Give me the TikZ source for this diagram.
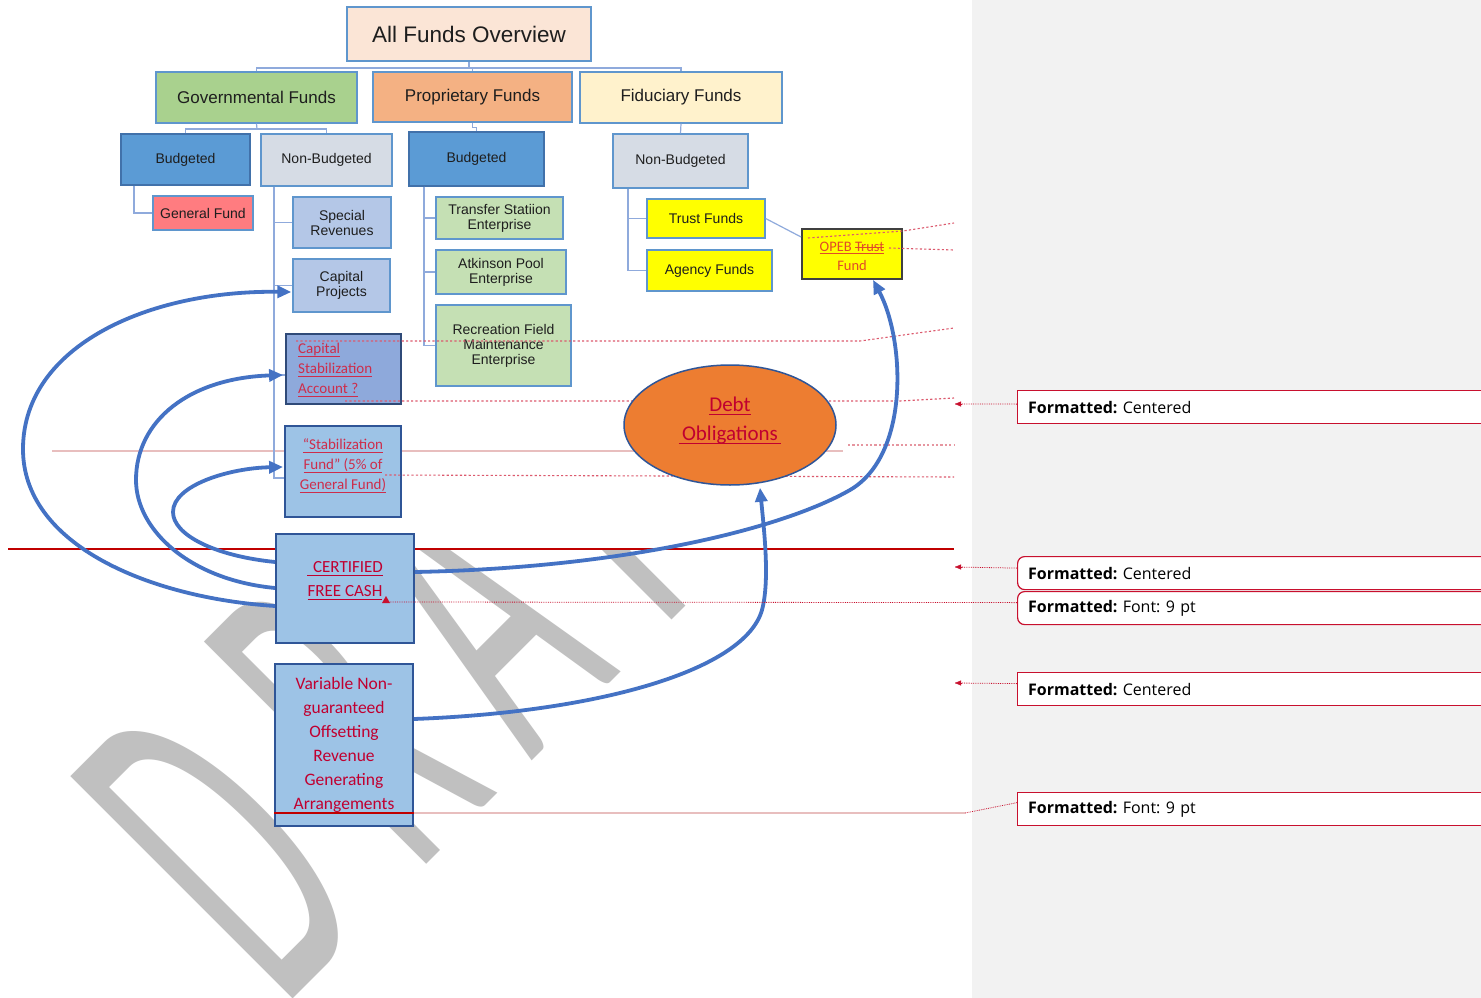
\documentclass[tikz,border=0pt]{standalone}
\usepackage{fontspec}
\setmainfont{Liberation Sans}
\newfontfamily\calib{Carlito}
\newfontfamily\segoe{Open Sans}
\newcommand\uln[1]{\leavevmode\setbox0\hbox{#1}\rlap{\vrule width\wd0 height -2pt depth 3.1pt}\box0}
\newcommand\strk[1]{\leavevmode\setbox2\hbox{#1}\rlap{\vrule width\wd2 height 4.6pt depth -3.6pt}\box2}
\usetikzlibrary{shapes.geometric,arrows.meta}
\definecolor{bggray}{RGB}{242,242,242}
\definecolor{wmgray}{RGB}{192,192,192}
\definecolor{cpeach}{RGB}{251,229,214}
\definecolor{obord}{RGB}{95,150,205}
\definecolor{obord2}{RGB}{65,113,170}
\definecolor{otext}{RGB}{30,30,30}
\definecolor{cgreen}{RGB}{169,209,142}
\definecolor{corange}{RGB}{244,177,131}
\definecolor{cfid}{RGB}{255,242,204}
\definecolor{cbud}{RGB}{91,155,213}
\definecolor{cnb}{RGB}{214,220,229}
\definecolor{cgf}{RGB}{255,124,128}
\definecolor{clb}{RGB}{180,199,231}
\definecolor{cmb}{RGB}{142,169,219}
\definecolor{cdark}{RGB}{47,74,120}
\definecolor{csky}{RGB}{157,195,230}
\definecolor{cdark2}{RGB}{47,85,151}
\definecolor{clg}{RGB}{197,224,180}
\definecolor{cyel}{RGB}{255,255,0}
\definecolor{cgray4}{RGB}{64,64,64}
\definecolor{corg}{RGB}{225,75,40}
\definecolor{corange2}{RGB}{237,125,49}
\definecolor{tred}{RGB}{192,0,48}
\definecolor{tred2}{RGB}{205,45,75}
\definecolor{aBlue}{RGB}{68,114,196}
\definecolor{oline}{RGB}{143,170,220}
\definecolor{rdotc}{RGB}{220,90,110}
\definecolor{rdotl}{RGB}{230,150,160}
\definecolor{cred}{RGB}{200,16,46}
\definecolor{cdred}{RGB}{192,0,0}
\definecolor{cpink}{RGB}{232,190,190}
\tikzset{
  orgbox/.style={draw=obord, line width=1.3pt, inner sep=0pt, align=center, text=otext, font=\fontsize{14}{15}\selectfont},
  conn/.style={draw=oline, line width=1.2pt},
  barrow/.style={draw=aBlue, line width=3.8pt, -{Triangle[length=14pt,width=12pt]}},
  rdot/.style={draw=rdotc, line width=1.1pt, dash pattern=on 2.2pt off 2.2pt},
  cline/.style={draw=cred, line width=0.8pt, densely dotted},
  ctip/.style={-{Triangle[length=6pt,width=5pt]}, cred},
  cbox/.style={draw=cred, line width=1.2pt, fill=white, anchor=north west, minimum height=33pt, text width=459pt, inner xsep=10.5pt, inner ysep=0pt, align=left, font=\segoe\fontsize{16}{18}\selectfont, text=black},
  wm/.style={text=wmgray, font=\calib\fontsize{490}{490}\selectfont, rotate=45, xscale=0.45, anchor=base west, inner sep=0pt},
  redtxt/.style={text=tred, font=\calib\fontsize{15}{20}\selectfont, align=center, inner sep=0pt},
  plainbox/.style={line width=1.8pt, inner sep=0pt},
}
\begin{document}
\begin{tikzpicture}[x=1pt,y=-1pt]
\clip (0,0) rectangle (1481,998);
\fill[white] (0,0) rectangle (972,998);
\fill[bggray] (972,0) rectangle (1481,998);

% watermark
\begin{scope}
\clip (0,548) rectangle (972,998);
\node[wm] (wmD) at (282,1010) {D};
\node[wm] (wmR) at (415,876) {R};
\node[wm] (wmA) at (531,762) {A};
\node[wm] (wmF) at (661,631) {F};
\node[wm] (wmT) at (770,522) {T};
\end{scope}

% background red lines
\draw[cdred, line width=1.3pt] (8,549) -- (954,549);
\draw[cpink, line width=2pt] (52,451) -- (843,451);

% org chart
\node[orgbox, fill=cpeach, line width=1.6pt, minimum width=244pt, minimum height=54pt, font=\fontsize{22.5}{27}\selectfont] (all) at (469,34) {All Funds Overview};
\node[orgbox, fill=cgreen, minimum width=201pt, minimum height=51pt, font=\fontsize{17}{20}\selectfont] (gov) at (256.5,97.5) {Governmental Funds};
\node[orgbox, fill=corange, minimum width=199pt, minimum height=50pt, font=\fontsize{17}{20}\selectfont] (prop) at (472.5,97) {Proprietary Funds};
\node[orgbox, fill=cfid, minimum width=202pt, minimum height=51pt, font=\fontsize{17}{20}\selectfont] (fid) at (681,97.5) {Fiduciary Funds};
\node[orgbox, fill=cbud, draw=obord2, minimum width=129pt, minimum height=51pt] (bud1) at (185.5,159.5) {Budgeted};
\node[orgbox, fill=cnb, minimum width=131pt, minimum height=52pt] (nb1) at (326.5,160) {Non-Budgeted};
\node[orgbox, fill=cbud, draw=obord2, minimum width=135pt, minimum height=54pt] (bud2) at (476.5,159) {Budgeted};
\node[orgbox, fill=cnb, minimum width=135pt, minimum height=54pt] (nb2) at (680.5,161) {Non-Budgeted};
\node[orgbox, fill=cgf, minimum width=100pt, minimum height=34pt] (gf) at (203,213) {General Fund};
\node[orgbox, fill=clb, minimum width=98pt, minimum height=51pt] (sr) at (342,222.5) {Special\\Revenues};
\node[orgbox, fill=clb, minimum width=97pt, minimum height=53pt] (cp) at (341.5,285.5) {Capital\\Projects};
\node[plainbox, fill=cmb, draw=cdark, minimum width=115pt, minimum height=70pt] (csa) at (343.5,369) {};
\node[redtxt, anchor=west, align=left, text=tred2] (csat) at (298,370) {\uln{Capital}\\\uln{Stabilization}\\\uln{Account ?}};
\node[plainbox, fill=csky, draw=cdark2, minimum width=116pt, minimum height=91pt] (sf) at (343,471.5) {};
\node[redtxt, text=tred2] (sft) at (343,466) {\uln{“Stabilization}\\\uln{Fund” (5\% of}\\\uln{General Fund)}};
\node[orgbox, fill=clg, minimum width=127pt, minimum height=42pt] (ts) at (499.5,218) {Transfer Statiion\\Enterprise};
\node[orgbox, fill=clg, minimum width=130pt, minimum height=44pt] (ap) at (501,272) {Atkinson Pool\\Enterprise};
\node[orgbox, fill=clg, minimum width=135pt, minimum height=81pt] (rf) at (503.5,345.5) {Recreation Field\\Maintenance\\Enterprise};
\node[orgbox, fill=cyel, minimum width=118pt, minimum height=39pt] (tf) at (706,218.5) {Trust Funds};
\node[orgbox, fill=cyel, minimum width=125pt, minimum height=41pt] (af) at (709.5,270.5) {Agency Funds};
\node[plainbox, fill=cyel, draw=cgray4, minimum width=100pt, minimum height=50pt] (opeb) at (852,254) {};
\node[text=corg, font=\calib\fontsize{14.5}{19}\selectfont, align=center, inner sep=0pt] (opebt) at (852,256) {\uln{OPEB \strk{Trust}}\\Fund};

% org connectors
\coordinate (j1) at (469,68);
\coordinate (j2) at (257,129);
\draw[conn] (all.south) -- (j1);
\draw[conn] (gov.north) |- (j1) -| (fid.north);
\draw[conn] (prop.north |- j1) -- (prop.north);
\draw[conn] (gov.south) -- (j2);
\draw[conn] (bud1.north) |- (j2) -| (nb1.north);
\draw[conn] (prop.south) -- ++(0,5) -| (bud2.north);
\draw[conn] (fid.south) -- (nb2.north);
\draw[conn] ([xshift=-51.5pt]bud1.south) |- (gf.west);
\draw[conn] ([xshift=-52.5pt]nb1.south) |- (sr.west);
\draw[conn] ([xshift=-52.5pt]nb1.south) |- (cp.west);
\draw[conn] ([xshift=-52.5pt]nb1.south) |- ([yshift=-6pt]csa.west);
\draw[conn] ([xshift=-52.5pt]nb1.south) |- ([yshift=-6.5pt]sf.west);
\draw[conn] ([xshift=-52.5pt]bud2.south) |- (ts.west);
\draw[conn] ([xshift=-52.5pt]bud2.south) |- (ap.west);
\draw[conn] ([xshift=-52.5pt]bud2.south) |- (rf.west);
\draw[conn] ([xshift=-52.5pt]nb2.south) |- (tf.west);
\draw[conn] ([xshift=-52.5pt]nb2.south) |- (af.west);
\draw[conn] (tf.east) -- ([yshift=17pt]opeb.west);

% dotted change-tracking lines
\draw[rdot] (296,341) -- (860,341) -- (954,328);
\draw[rdot] (345,401) -- (900,401) -- (954,398);
\draw[rdot, draw=rdotl] (848,445) -- (954,445);
\draw[rdot] (385,475) -- (954,477);
\draw[rdot] (808,238) -- (903,231) -- (954,223);
\draw[rdot] (889,248) -- (954,250);

% debt
\node[ellipse, fill=corange2, draw=cdark2, line width=1.5pt, minimum width=212pt, minimum height=120pt, inner sep=0pt] (debt) at (730,425) {};
\node[text=tred, font=\calib\fontsize{21}{29}\selectfont, align=center, inner sep=0pt] (debtt) at (730,421) {\uln{Debt}\\\uln{\,Obligations\,}};

% lower boxes
\node[plainbox, fill=csky, draw=cdark2, minimum width=138pt, minimum height=109pt] (cfc) at (345,588.5) {};
\node[text=tred, font=\calib\fontsize{17}{24}\selectfont, align=center, inner sep=0pt] (cfct) at (345,581) {\uln{\hspace*{6pt}CERTIFIED}\\\uln{FREE CASH}};
\node[plainbox, fill=csky, draw=cdark2, minimum width=138pt, minimum height=162pt, text=tred, font=\calib\fontsize{17.5}{24}\selectfont, align=center] (var) at (344,745) {Variable Non-\\guaranteed\\Offsetting\\Revenue\\Generating\\Arrangements};
\draw[cdred, line width=1.8pt] ([yshift=-68pt]var.west) -- ([yshift=-68pt]var.east);

% blue arrows
\draw[barrow] ([yshift=-17.5pt]cfc.west) .. controls (150,598) and (22,545) .. (23,448) .. controls (24,345) and (150,290) .. ([yshift=-6.5pt,xshift=-1pt]cp.west);
\draw[barrow] ([yshift=0.5pt]cfc.west) .. controls (190,580) and (136,530) .. (136,480) .. controls (136,420) and (190,378) .. ([yshift=-6pt,xshift=-2pt]csa.west);
\draw[barrow] ([yshift=26.5pt]cfc.west) .. controls (215,556) and (173,535) .. (173,512) .. controls (173,485) and (230,468) .. ([yshift=4.5pt,xshift=-1pt]sf.west);
\draw[barrow] ([yshift=16.5pt]cfc.east) .. controls (620,568) and (780,530) .. (850,490) .. controls (910,455) and (905,340) .. ([xshift=21pt]opeb.south);
\draw[barrow] ([yshift=26pt]var.east) .. controls (600,712) and (745,670) .. (762,610) .. controls (770,580) and (764,530) .. ([xshift=30pt,yshift=-2pt]debt.south);

% comments
\node[cbox] (c1) at (1017,390) {\textbf{Formatted:}\ Centered};
\node[cbox, rounded corners=7pt] (c2) at (1017,556) {\textbf{Formatted:}\ Centered};
\node[cbox, rounded corners=7pt] (c3) at (1017,591) {\textbf{Formatted:}\ Font:\ 9 pt};
\node[cbox] (c4) at (1017,672) {\textbf{Formatted:}\ Centered};
\node[cbox] (c5) at (1017,792) {\textbf{Formatted:}\ Font:\ 9 pt};
\coordinate (e1) at (955,404);
\coordinate (e2) at (955,567);
\coordinate (e3) at (386,602);
\coordinate (e4) at (955,683);
\coordinate (e5) at (965,813);
\draw[cline] ([yshift=3pt]c1.west) -- (e1);
\draw[ctip] (962,404) -- (e1);
\draw[cline] ([yshift=5pt]c2.west) -- (e2);
\draw[ctip] (962,567) -- (e2);
\draw[cline] ([yshift=5.5pt]c3.west) -- (e3);
\fill[cred] (382,603) -- (386,596) -- (390,603) -- cycle;
\draw[cline] ([yshift=5.5pt]c4.west) -- (e4);
\draw[ctip] (962,683) -- (e4);
\draw[cline] ([yshift=6.5pt]c5.west) -- (e5);
\draw[cpink, line width=1.2pt] ([yshift=-68pt]var.east) -- (e5);
\end{tikzpicture}
\end{document}
